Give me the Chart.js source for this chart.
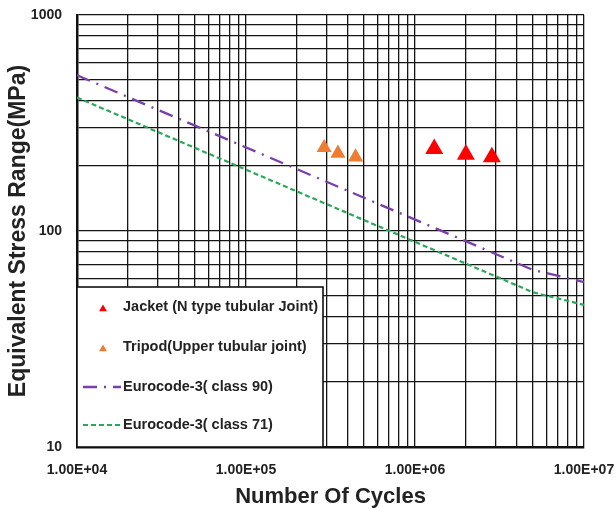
<!DOCTYPE html>
<html>
<head>
<meta charset="utf-8">
<script src="https://cdn.jsdelivr.net/npm/chart.js@4"></script>
<style>
  html, body { margin: 0; padding: 0; background: #fff; }
  canvas { display: block; }
</style>
</head>
<body>
<canvas id="chart" width="616" height="508"></canvas>
<script>
// values
const jacketCycles = [1.3e6, 2.0e6, 2.85e6];
const jacketStress = [240, 226, 220];
const tripodCycles = [2.9e5, 3.5e5, 4.45e5];
const tripodStress = [243, 229, 220];
const class90Cycles = [1e4, 5e6, 1e7];
const class90Stress = [526, 66, 58];
const class71Cycles = [1e4, 5e6, 1e7];
const class71Stress = [415, 52, 45.5];

const xDecades = [1e4, 1e5, 1e6, 1e7];
const xTickLabels = ['1.00E+04', '1.00E+05', '1.00E+06', '1.00E+07'];
const yDecades = [10, 100, 1000];
const yTickLabels = ['10', '100', '1000'];
const gridMantissas = [1, 2, 3, 4, 5, 6, 7, 8, 9];

const FONT = "'Liberation Sans', Arial, sans-serif";
const INK = '#222';

function gridValues(decades) {
  const out = [];
  decades.forEach((d, i) => {
    if (i === decades.length - 1) { out.push(d); return; }
    gridMantissas.forEach(m => out.push(m * d));
  });
  return out;
}

function toPoints(xs, ys) {
  return xs.map((x, i) => ({ x, y: ys[i] }));
}

function labelFor(decades, labels) {
  return value => {
    const i = decades.findIndex(d => Math.abs(d - value) / d < 1e-6);
    return i >= 0 ? labels[i] : '';
  };
}

// legend drawn inside the plot, bottom-left corner
const boxLegend = {
  id: 'boxLegend',
  afterDraw(chart) {
    const { ctx, chartArea } = chart;
    const w = 246, h = 160;
    const left = chartArea.left;
    const top = chartArea.bottom - h;
    ctx.save();
    ctx.fillStyle = '#fff';
    ctx.fillRect(left, top, w, h);
    ctx.strokeStyle = '#111';
    ctx.lineWidth = 1.6;
    ctx.strokeRect(left, top, w, h);

    const rows = [20, 60, 100, 138];
    ctx.font = `bold 14.5px ${FONT}`;
    ctx.textBaseline = 'middle';
    ctx.textAlign = 'left';

    chart.data.datasets.forEach((ds, i) => {
      const y = top + rows[i];
      if (ds.showLine) {
        ctx.strokeStyle = ds.borderColor;
        ctx.lineWidth = ds.borderWidth;
        ctx.setLineDash(ds.borderDash || []);
        ctx.beginPath();
        ctx.moveTo(left + 6, y);
        ctx.lineTo(left + 44, y);
        ctx.stroke();
        ctx.setLineDash([]);
      } else {
        const r = 4.6, cx = left + 26, cy = y + 2;
        ctx.fillStyle = ds.backgroundColor;
        ctx.beginPath();
        ctx.moveTo(cx, cy - r);
        ctx.lineTo(cx + r * 0.866, cy + r / 2);
        ctx.lineTo(cx - r * 0.866, cy + r / 2);
        ctx.closePath();
        ctx.fill();
      }
      ctx.fillStyle = INK;
      ctx.fillText(ds.label, left + 46, y);
    });
    ctx.restore();
  }
};

new Chart(document.getElementById('chart'), {
  type: 'scatter',
  data: {
    datasets: [
      {
        label: 'Jacket (N type tubular Joint)',
        data: toPoints(jacketCycles, jacketStress),
        pointStyle: 'triangle',
        pointRadius: 10.4,
        backgroundColor: '#ff0000',
        borderColor: '#ff0000',
        borderWidth: 0,
        showLine: false
      },
      {
        label: 'Tripod(Upper tubular joint)',
        data: toPoints(tripodCycles, tripodStress),
        pointStyle: 'triangle',
        pointRadius: 8.7,
        backgroundColor: '#ee7d32',
        borderColor: '#ee7d32',
        borderWidth: 0,
        showLine: false
      },
      {
        label: 'Eurocode-3( class 90)',
        data: toPoints(class90Cycles, class90Stress),
        showLine: true,
        pointRadius: 0,
        borderColor: '#7a3fa8',
        backgroundColor: '#7a3fa8',
        borderWidth: 2.3,
        borderDash: [14, 7, 2, 7]
      },
      {
        label: 'Eurocode-3( class 71)',
        data: toPoints(class71Cycles, class71Stress),
        showLine: true,
        pointRadius: 0,
        borderColor: '#2aa85a',
        backgroundColor: '#2aa85a',
        borderWidth: 2.2,
        borderDash: [5, 3]
      }
    ]
  },
  options: {
    responsive: false,
    animation: false,
    layout: { padding: { top: 15, right: 32, left: 0, bottom: 0 } },
    plugins: {
      legend: { display: false },
      tooltip: { enabled: false }
    },
    scales: {
      x: {
        type: 'logarithmic',
        min: 1e4,
        max: 1e7,
        afterFit(scale) {
          scale.height = 61;
          scale.paddingLeft = 0;
          scale.paddingRight = 0;
        },
        afterBuildTicks(scale) { scale.ticks = gridValues(xDecades).map(v => ({ value: v })); },
        grid: { color: '#151515', lineWidth: 1.3, drawTicks: false },
        border: { color: '#111', width: 2.5 },
        ticks: {
          autoSkip: false,
          maxRotation: 0,
          padding: 15,
          color: INK,
          font: { family: FONT, size: 14, weight: 'bold' },
          callback: labelFor(xDecades, xTickLabels)
        },
        title: {
          display: true,
          text: 'Number Of Cycles',
          color: INK,
          padding: { top: 0, bottom: 0 },
          font: { family: FONT, size: 22, weight: 'bold', lineHeight: 1 }
        }
      },
      y: {
        type: 'logarithmic',
        min: 10,
        max: 1000,
        afterFit(scale) {
          scale.width = 77;
          scale.paddingTop = 0;
          scale.paddingBottom = 0;
        },
        afterBuildTicks(scale) { scale.ticks = gridValues(yDecades).map(v => ({ value: v })); },
        grid: { color: '#151515', lineWidth: 1.3, drawTicks: false },
        border: { color: '#111', width: 2.5 },
        ticks: {
          autoSkip: false,
          padding: 15,
          color: INK,
          font: { family: FONT, size: 14, weight: 'bold' },
          callback: labelFor(yDecades, yTickLabels)
        },
        title: {
          display: true,
          text: 'Equivalent Stress Range(MPa)',
          color: INK,
          padding: { top: 7, bottom: 0 },
          font: { family: FONT, size: 23, weight: 'bold', lineHeight: 1 }
        }
      }
    }
  },
  plugins: [boxLegend]
});
</script>
</body>
</html>
